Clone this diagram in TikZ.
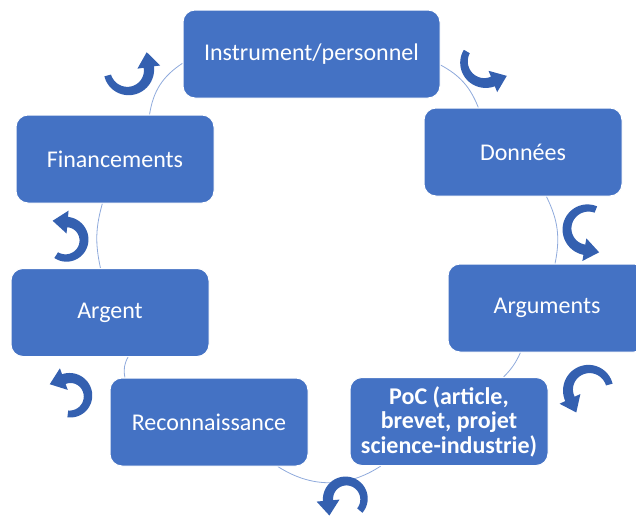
\documentclass[tikz,border=0pt]{standalone}
\usepackage{fontspec}
\setmainfont{Carlito}
\usetikzlibrary{backgrounds}
\definecolor{boxblue}{RGB}{68,114,196}
\definecolor{arrowblue}{RGB}{52,96,176}
\definecolor{ringblue}{RGB}{143,170,220}
\def\cawa{3.4}\def\cawb{5.2}\def\cahw{11.5}\def\cahl{15}
% circular arrow: #1 cx, #2 cy, #3 radius, #4 start angle, #5 end angle (counterclockwise)
\newcommand\cycarrow[5]{%
  \fill[arrowblue]
    plot[domain=#4:#5,samples=36,variable=\myang]
      ({#1+(#3+\cawa+(\cawb-\cawa)*(\myang-(#4))/((#5)-(#4)))*cos(\myang)},
       {#2+(#3+\cawa+(\cawb-\cawa)*(\myang-(#4))/((#5)-(#4)))*sin(\myang)})
    -- ({#1+(#3+\cahw)*cos(#5)},{#2+(#3+\cahw)*sin(#5)})
    -- ({#1+#3*cos(#5)+\cahl*cos(#5+90)},{#2+#3*sin(#5)+\cahl*sin(#5+90)})
    -- ({#1+(#3-\cahw)*cos(#5)},{#2+(#3-\cahw)*sin(#5)})
    -- plot[domain=#5:#4,samples=36,variable=\myang]
      ({#1+(#3-\cawa-(\cawb-\cawa)*(\myang-(#4))/((#5)-(#4)))*cos(\myang)},
       {#2+(#3-\cawa-(\cawb-\cawa)*(\myang-(#4))/((#5)-(#4)))*sin(\myang)})
    -- cycle;}
\begin{document}
\begin{tikzpicture}[x=0.75pt,y=0.75pt,
  box/.style={rectangle, rounded corners=9pt, fill=boxblue, draw=white,
    line width=0.75pt, text=white, minimum width=148.5pt, minimum height=66pt,
    font=\fontsize{18}{21}\selectfont, align=center, inner sep=2pt},
  ring/.style={draw=ringblue, line width=0.6pt}]
\useasboundingbox (0,0) rectangle (636,-515);
\node[box, minimum width=192.75pt] (instr) at (311.5,-54) {Instrument/personnel};
\node[box] (donnees) at (523,-152) {Données};
\node[box] (arg) at (547,-308) {Arguments};
\node[box, font=\bfseries\fontsize{18}{18.4}\selectfont] (poc) at (449,-421.5) {PoC (article,\\brevet, projet\\science-industrie)};
\node[box] (recon) at (209,-422) {Reconnaissance};
\node[box] (argent) at (110,-312.5) {Argent};
\node[box] (fin) at (115,-159) {Financements};
\begin{scope}[on background layer]
\draw[ring] (instr) to[bend left=20] (donnees);
\draw[ring] (donnees) to[bend left=19] (arg);
\draw[ring] (arg) to[bend left=10] (poc);
\draw[ring] (poc) to[bend left=33] (recon);
\draw[ring] (recon) to[bend left=20] (argent);
\draw[ring] (argent) to[bend left=14] (fin);
\draw[ring] (fin) to[bend left=24] (instr);
\end{scope}
\cycarrow{128}{-70}{21}{-165}{8}
\cycarrow{485}{-62}{21}{-210}{-68}
\cycarrow{588}{-229}{21}{-292}{-100}
\cycarrow{589}{-390}{21}{15}{205}
\cycarrow{346}{-499}{18}{-40}{185}
\cycarrow{70}{-396}{18}{-97}{110}
\cycarrow{66}{-240}{18}{-123}{85}
\end{tikzpicture}
\end{document}
